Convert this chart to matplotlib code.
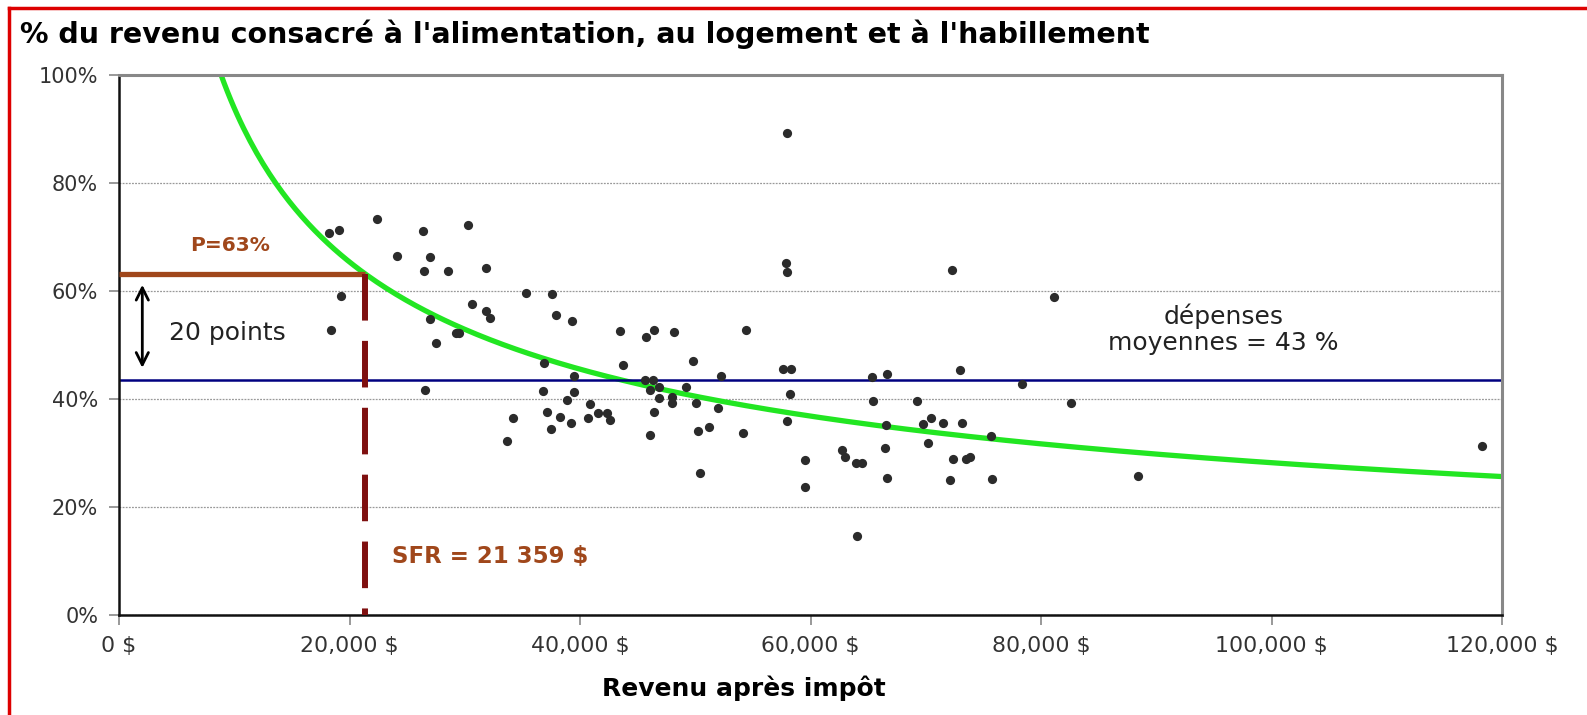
import matplotlib
matplotlib.use('Agg')
import numpy as np
import matplotlib.pyplot as plt
from matplotlib.lines import Line2D
from matplotlib.ticker import FuncFormatter

# the source chart is stretched sideways, so the wider DejaVu face fits it better
plt.rcParams['font.family'] = ['DejaVu Sans']

# revenu après impôt ($) et part du revenu (%) de chaque ménage
income = [18180, 19100, 22370, 26390, 30260, 24080, 27020, 26470, 28580, 31880,
          19220, 18350, 30660, 31880, 32220, 27020, 29220, 29500, 27510, 26530,
          35350, 37540, 37950, 39330, 43440, 45750, 46390, 48150, 54360, 36880,
          39480, 43720, 49790, 52200, 57600, 58320, 58180, 57940, 36790, 39510,
          38900, 40900, 37170, 38260, 37510, 39220, 40690, 41550, 42330, 42630,
          34190, 33670, 45610, 46330, 46040, 46850, 46880, 47970, 48010, 49220,
          50030, 46390, 46100, 50200, 51180, 51990, 54130, 50430, 57970, 57860,
          57920, 62740, 63030, 59480, 59540, 72250, 81160, 65370, 66620, 72940,
          78350, 65460, 69250, 82600, 66560, 69770, 70410, 71470, 73150, 75670,
          70170, 63960, 64480, 66440, 72400, 73500, 73850, 66650, 72080, 75740,
          88440, 64010, 118230]
share = [70.8, 71.3, 73.3, 71.1, 72.3, 66.5, 66.4, 63.8, 63.7, 64.3,
         59.2, 52.9, 57.6, 56.3, 55.0, 54.8, 52.3, 52.2, 50.4, 41.8,
         59.6, 59.5, 55.6, 54.5, 52.6, 51.5, 52.8, 52.4, 52.9, 46.7,
         44.3, 46.3, 47.1, 44.4, 45.6, 45.6, 41.0, 35.9, 41.5, 41.4,
         39.9, 39.1, 37.7, 36.7, 34.5, 35.6, 36.5, 37.4, 37.4, 36.1,
         36.5, 32.2, 43.6, 43.6, 41.7, 42.2, 40.3, 40.4, 39.3, 42.3,
         39.3, 37.6, 33.3, 34.1, 34.9, 38.3, 33.8, 26.4, 89.3, 65.2,
         63.6, 30.7, 29.3, 28.8, 23.8, 63.9, 59.0, 44.2, 44.6, 45.5,
         42.8, 39.7, 39.7, 39.4, 35.2, 35.5, 36.6, 35.6, 35.7, 33.2,
         32.0, 28.2, 28.3, 30.9, 28.9, 28.9, 29.3, 25.5, 25.1, 25.2,
         25.8, 14.7, 31.4]

mean_share = 43.5          # dépenses moyennes
sfr_income = 21359         # seuil de faible revenu
sfr_share = 63.2           # P = 63 %
trend_exponent = -0.5213   # courbe de tendance (puissance)

fig = plt.figure(figsize=(15.87, 7.15), dpi=100)
fig.patch.set_facecolor('white')
ax = fig.add_axes([0.075, 0.1392, 0.8715, 0.7559])

ax.set_xlim(0, 120000)
ax.set_ylim(0, 100)
ax.set_xticks(np.arange(0, 120001, 20000))
ax.set_yticks(np.arange(0, 101, 20))
ax.xaxis.set_major_formatter(FuncFormatter(lambda v, p: f"{int(v):,} $"))
ax.yaxis.set_major_formatter(FuncFormatter(lambda v, p: f"{int(v)}%"))
ax.tick_params(direction='out', length=7, width=1.2, color='#888888',
               labelsize=15, labelcolor='#333333', pad=8)
ax.tick_params(axis='x', labelsize=15.8)
ax.yaxis.grid(True, linestyle=(0, (1.5, 1)), color='#999999', linewidth=0.9)
ax.set_axisbelow(True)

for side in ['left', 'bottom']:
    ax.spines[side].set_color('#111111')
    ax.spines[side].set_linewidth(1.8)
for side in ['top', 'right']:
    ax.spines[side].set_color('#888888')
    ax.spines[side].set_linewidth(2.2)

# courbe de tendance
xc = np.linspace(8000, 120200, 400)
yc = sfr_share * (xc / sfr_income) ** trend_exponent
ax.plot(xc, yc, color='#22E622', lw=3.8, zorder=2)

ax.axhline(mean_share, color='#000080', lw=1.8, zorder=2)

ax.scatter(income, share, s=44, color='#2B2B2B', zorder=3, linewidths=0)

# seuil de faible revenu
ax.plot([0, sfr_income], [sfr_share, sfr_share], color='#A0471B', lw=3.8,
        solid_capstyle='butt', zorder=4)
ax.plot([sfr_income, sfr_income], [sfr_share, 0], color='#7F1010', lw=4.3,
        dashes=(7.8, 3.4), zorder=4)

ax.annotate('', xy=(2020, 45.3), xytext=(2020, 61.7),
            arrowprops=dict(arrowstyle='<->', color='black', lw=2, mutation_scale=22))
ax.text(4300, 52.2, '20 points', fontsize=18, color='#222222', va='center', ha='left')
ax.text(9600, 68.5, 'P=63%', fontsize=14.5, color='#A0471B', fontweight='bold',
        va='center', ha='center')
ax.text(23700, 10.9, 'SFR = 21 359 $', fontsize=16.5, color='#A0471B', fontweight='bold',
        va='center', ha='left')
ax.text(95800, 53.0, 'dépenses\nmoyennes = 43 %', fontsize=18, color='#222222',
        va='center', ha='center', linespacing=1.1)

fig.text(20 / 1587, 1 - 34 / 715,
         "% du revenu consacré à l'alimentation, au logement et à l'habillement",
         fontsize=20.5, fontweight='bold', va='center', ha='left')
fig.text(744 / 1587, 1 - 688 / 715, 'Revenu après impôt', fontsize=18,
         fontweight='bold', va='center', ha='center')

# cadre rouge
fig.add_artist(Line2D([9 / 1587, 9 / 1587], [0, 1 - 8 / 715], transform=fig.transFigure,
                      color='#DD0000', lw=2.5))
fig.add_artist(Line2D([9 / 1587, 1], [1 - 8 / 715, 1 - 8 / 715], transform=fig.transFigure,
                      color='#DD0000', lw=2.5))

plt.savefig('out.png', dpi=100)
